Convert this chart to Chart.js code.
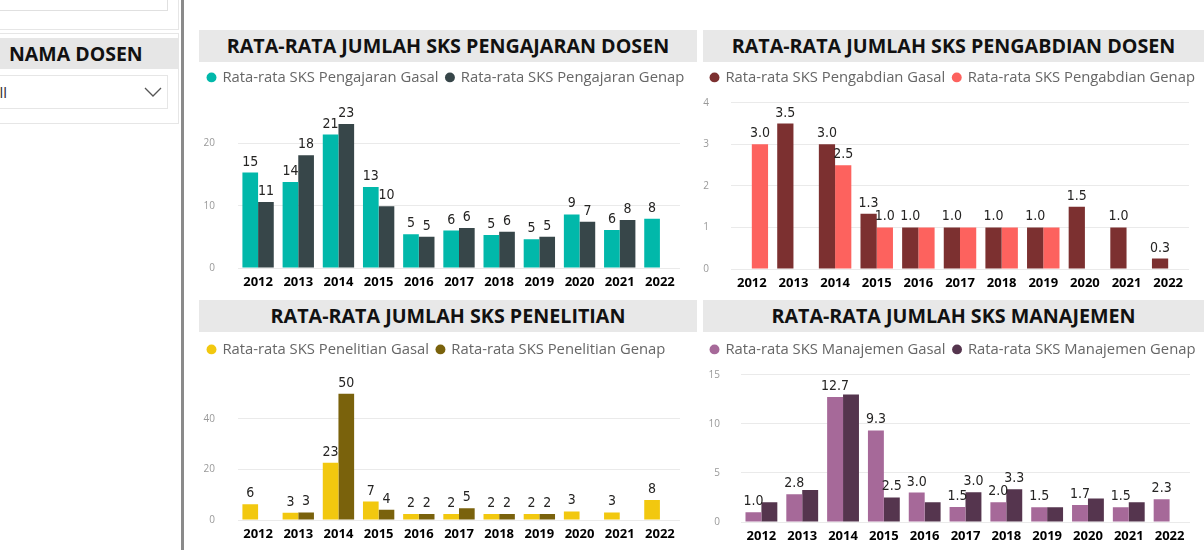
<!DOCTYPE html>
<html>
<head>
<meta charset="utf-8">
<script src="https://cdn.jsdelivr.net/npm/chart.js@4.4.1/dist/chart.umd.min.js"></script>
<style>
  body { margin: 0; width: 1204px; height: 550px; overflow: hidden; background: #fff; position: relative; font-family: "Open Sans", sans-serif; }
  .kotak { position: absolute; box-sizing: border-box; border: 1px solid #e6e6e6; background: #fff; }
  .judul { position: absolute; height: 32px; line-height: 32px; background: #e8e8e8; text-align: center; font-weight: 700; font-size: 19.7px; color: #111; white-space: nowrap; }
  canvas { position: absolute; }
</style>
</head>
<body>

<!-- panel filter kiri -->
<div class="kotak" style="left:-1px;top:-1px;width:180px;height:31px;"></div>
<div class="kotak" style="left:-1px;top:-1px;width:169px;height:12px;border-color:#e0e0e0;"></div>
<div class="kotak" style="left:-1px;top:33px;width:180px;height:91px;"></div>
<div style="position:absolute;left:0;top:38px;width:178px;height:31px;background:#e6e6e6;"></div>
<div style="position:absolute;left:9px;top:38px;height:31px;line-height:31px;font-weight:700;font-size:19.5px;color:#111;">NAMA DOSEN</div>
<div class="kotak" style="left:-1px;top:75px;width:169px;height:34px;overflow:hidden;">
  <span style="position:absolute;left:-10px;top:6px;font-size:15px;color:#333;">All</span>
  <svg style="position:absolute;left:144px;top:11px;" width="19" height="11"><polyline points="1,1 9,9 17,1" fill="none" stroke="#555" stroke-width="1.3"/></svg>
</div>
<div style="position:absolute;left:181px;top:0;width:3px;height:550px;background:#8a8a8a;"></div>

<!-- judul visual -->
<div class="judul" style="left:199px;top:30px;width:498px;">RATA-RATA JUMLAH SKS PENGAJARAN DOSEN</div>
<div class="judul" style="left:703px;top:30px;width:501px;">RATA-RATA JUMLAH SKS PENGABDIAN DOSEN</div>
<div class="judul" style="left:199px;top:300px;width:498px;">RATA-RATA JUMLAH SKS PENELITIAN</div>
<div class="judul" style="left:703px;top:300px;width:501px;">RATA-RATA JUMLAH SKS MANAJEMEN</div>

<canvas id="grafikPengajaran" width="497" height="235" style="left:200px;top:62px;"></canvas>
<canvas id="grafikPengabdian" width="501" height="235" style="left:703px;top:62px;"></canvas>
<canvas id="grafikPenelitian" width="497" height="217" style="left:200px;top:332px;"></canvas>
<canvas id="grafikManajemen" width="501" height="217" style="left:703px;top:332px;"></canvas>

<script>
// ---------------- DATA ----------------
const tahun = ["2012", "2013", "2014", "2015", "2016", "2017", "2018", "2019", "2020", "2021", "2022"];

const pengajaranGasal = [15.3, 13.8, 21.4, 13.0, 5.4, 6.0, 5.3, 4.6, 8.6, 6.1, 7.9];
const pengajaranGenap = [10.6, 18.1, 23.1, 9.9, 5.0, 6.4, 5.8, 5.0, 7.4, 7.7, null];

const pengabdianGasal = [null, 3.5, 3.0, 1.33, 1.0, 1.0, 1.0, 1.0, 1.5, 1.0, 0.25];
const pengabdianGenap = [3.0, null, 2.5, 1.0, 1.0, 1.0, 1.0, 1.0, null, null, null];

const penelitianGasal = [6.2, 2.9, 22.7, 7.3, 2.4, 2.4, 2.4, 2.4, 3.4, 3.0, 7.9];
const penelitianGenap = [null, 3.0, 50, 4.1, 2.4, 4.7, 2.4, 2.4, null, null, null];

const manajemenGasal = [1.0, 2.83, 12.73, 9.33, 3.0, 1.54, 2.0, 1.5, 1.73, 1.5, 2.33];
const manajemenGenap = [2.0, 3.25, 13.0, 2.5, 2.0, 3.04, 3.33, 1.5, 2.4, 2.0, null];

// label genap yang terlihat (sisanya tertutup seperti di Power BI)
const pengabdianGenapTampil = [true, false, true, true, false, false, false, false, false, false, false];
const manajemenGenapTampil = [false, false, false, true, false, true, true, false, false, false, false];

// ---------------- PLUGIN ----------------
const labelNilai = {
  id: "labelNilai",
  afterDatasetsDraw(chart, args, opts) {
    const ctx = chart.ctx;
    ctx.save();
    ctx.font = '14px "DejaVu Sans Condensed"';
    ctx.fillStyle = "#252423";
    ctx.textAlign = "center";
    ctx.textBaseline = "alphabetic";
    chart.data.datasets.forEach((ds, di) => {
      chart.getDatasetMeta(di).data.forEach((bar, i) => {
        const v = ds.data[i];
        if (v === null) return;
        if (opts.tampil && opts.tampil[di] && !opts.tampil[di][i]) return;
        ctx.fillText(v.toFixed(opts.desimal), bar.x, bar.y - 7);
      });
    });
    ctx.restore();
  }
};

// legenda satu baris (boleh lewat padding kanan) + jarak di bawahnya
const LEBIH = 100;
const jarakLegenda = {
  id: "jarakLegenda",
  beforeInit(chart) {
    const jarak = chart.config.options.plugins.jarakLegenda.jarak;
    const fitAsli = chart.legend.fit;
    chart.legend.fit = function () {
      const lebar = this.maxWidth;
      this.maxWidth = lebar + LEBIH;
      fitAsli.call(this);
      this.maxWidth = lebar;
      this.width = Math.min(this.width, lebar);
      this.height += jarak;
    };
  },
  afterLayout(chart) {
    chart.legend.right += LEBIH;
    chart.legend.width += LEBIH;
  }
};

// ---------------- GRAFIK ----------------
function buatGrafik(id, c) {
  return new Chart(document.getElementById(id), {
    type: "bar",
    data: {
      labels: tahun,
      datasets: [
        { label: c.nama[0], data: c.gasal, backgroundColor: c.warna[0] },
        { label: c.nama[1], data: c.genap, backgroundColor: c.warna[1] }
      ]
    },
    options: {
      responsive: false,
      animation: false,
      datasets: { bar: { categoryPercentage: 0.78, barPercentage: 1 } },
      layout: { padding: { top: c.padAtas, right: c.padKanan, left: 0, bottom: 0 } },
      plugins: {
        tooltip: { enabled: false },
        legend: {
          position: "top",
          align: "start",
          labels: {
            usePointStyle: true,
            pointStyle: "circle",
            boxWidth: 7,
            boxHeight: 7,
            padding: 8,
            color: "#666",
            font: { family: "Open Sans", size: 14.8 }
          }
        },
        jarakLegenda: { jarak: c.jarak },
        labelNilai: { desimal: c.desimal, tampil: c.tampil }
      },
      scales: {
        x: {
          grid: { display: false },
          border: { display: false },
          ticks: {
            color: "#000",
            padding: -2,
            maxRotation: 0,
            autoSkip: false,
            font: { family: "Open Sans", size: 13, weight: "bold" }
          },
          afterFit: s => { s.height = 26; }
        },
        y: {
          min: 0,
          max: c.maks,
          border: { display: false },
          grid: { color: "#eaeaea", drawTicks: false },
          ticks: {
            stepSize: c.langkah,
            padding: c.padTick,
            color: "#999",
            font: { family: "Open Sans", size: 10 }
          },
          afterBuildTicks: s => { s.ticks = s.ticks.filter(t => t.value % c.langkah === 0); },
          afterFit: s => { s.width = c.lebarY; }
        }
      }
    },
    plugins: [labelNilai, jarakLegenda]
  });
}

buatGrafik("grafikPengajaran", {
  nama: ["Rata-rata SKS Pengajaran Gasal", "Rata-rata SKS Pengajaran Genap"],
  gasal: pengajaranGasal, genap: pengajaranGenap,
  warna: ["#01B8AA", "#374649"],
  maks: 26.5, langkah: 10, desimal: 0,
  lebarY: 38, padTick: 23, padKanan: 17, padAtas: 0, jarak: 8
});

buatGrafik("grafikPengabdian", {
  nama: ["Rata-rata SKS Pengabdian Gasal", "Rata-rata SKS Pengabdian Genap"],
  gasal: pengabdianGasal, genap: pengabdianGenap,
  warna: ["#7C3030", "#FD625E"],
  maks: 4, langkah: 1, desimal: 1,
  tampil: [null, pengabdianGenapTampil],
  lebarY: 28, padTick: 22, padKanan: 15, padAtas: 0, jarak: 8
});

buatGrafik("grafikPenelitian", {
  nama: ["Rata-rata SKS Penelitian Gasal", "Rata-rata SKS Penelitian Genap"],
  gasal: penelitianGasal, genap: penelitianGenap,
  warna: ["#F2C80F", "#7A620C"],
  maks: 57.5, langkah: 20, desimal: 0,
  lebarY: 38, padTick: 23, padKanan: 17, padAtas: 2, jarak: 8
});

buatGrafik("grafikManajemen", {
  nama: ["Rata-rata SKS Manajemen Gasal", "Rata-rata SKS Manajemen Genap"],
  gasal: manajemenGasal, genap: manajemenGenap,
  warna: ["#A66999", "#55354E"],
  maks: 15, langkah: 5, desimal: 1,
  tampil: [null, manajemenGenapTampil],
  lebarY: 38, padTick: 21, padKanan: 14, padAtas: 2, jarak: 8
});
</script>
</body>
</html>
